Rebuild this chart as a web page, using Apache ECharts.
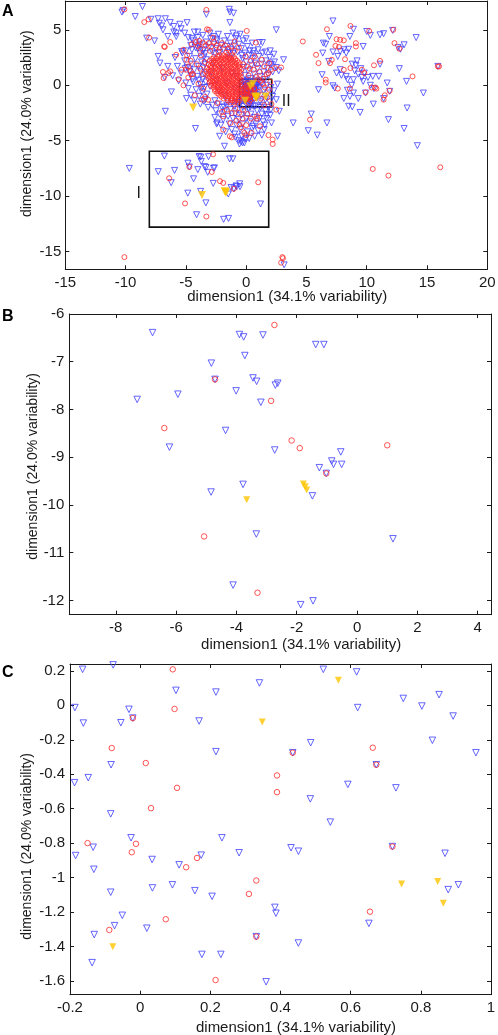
<!DOCTYPE html>
<html><head><meta charset="utf-8">
<script src="https://cdn.jsdelivr.net/npm/echarts@6/dist/echarts.min.js"></script>
<style>html,body{margin:0;padding:0;background:#fff}#c{width:498px;height:1035px}</style>
</head><body><div id="c"></div>
<script>
// ---------------- DATA (same point set shown in three zoom levels) ----------------
const blueTriangles = [
// zoom B region
[-6.78,-6.39],[-3.90,-6.43],[-3.76,-6.48],[-3.12,-6.44],[-1.37,-6.64],[-1.10,-6.64],[-3.72,-6.87],[-4.83,-7.03],[-3.45,-7.34],[-3.33,-7.41],[-2.71,-7.49],[-2.63,-7.45],[-4.01,-7.61],[-5.94,-7.68],[-7.29,-7.79],[-3.19,-7.85],[-4.36,-8.44],[-6.22,-8.79],[-2.73,-8.85],[-0.54,-8.89],[-0.84,-9.08],[-0.78,-9.15],[-0.51,-9.15],[-1.25,-9.22],[-1.02,-9.34],[-3.78,-9.57],[-4.84,-9.73],[-1.48,-9.81],[-3.34,-10.61],[1.19,-10.71],[-4.11,-11.68],[-1.46,-12.01],[-1.87,-12.09],[-4.71,-7.37],
// zoom C region
[-0.164,0.209],[-0.077,0.235],[0.102,0.087],[0.216,0.077],[0.340,0.130],[0.522,0.209],[0.617,0.194],[0.750,0.040],[0.852,0.062],[-0.186,-0.013],[-0.162,-0.103],[-0.032,-0.023],[-0.055,-0.101],[-0.021,-0.074],[0.168,-0.091],[-0.083,-0.345],[0.216,-0.269],[-0.187,-0.449],[-0.148,-0.420],[-0.084,-0.630],[-0.026,-0.769],[-0.134,-0.824],[0.233,-0.769],[0.282,-0.856],[-0.184,-0.872],[0.034,-0.895],[0.174,-0.870],[0.111,-0.926],[-0.132,-0.952],[-0.084,-1.085],[0.035,-1.060],[0.092,-1.042],[0.156,-1.076],[0.205,-1.109],[-0.051,-1.219],[-0.073,-1.279],[0.019,-1.294],[-0.131,-1.331],[-0.137,-1.494],[0.176,-1.446],[0.230,-1.446],[0.331,-1.343],[0.430,-0.827],[0.451,-0.847],[0.719,-0.820],[0.869,-0.859],[0.878,-1.070],[0.907,-1.042],[0.384,-1.173],[0.387,-1.207],[0.652,-1.266],[0.451,-1.380],[0.359,-1.605],[0.803,-0.004],[0.620,-0.013],[0.892,-0.062],[0.486,-0.217],[0.435,-0.275],[0.833,-0.203],[0.957,-0.275],[0.673,-0.345],[0.592,-0.459],[0.729,-0.479],[0.485,-0.543],[0.542,-0.678],
// main cluster, left side
[-5.1,2.2],[-4.9,1.6],[-4.7,2.6],[-4.6,0.9],[-4.5,1.9],[-4.4,0.3],[-4.3,1.4],[-4.2,2.4],[-4.15,-0.4],[-4.05,0.8],[-3.95,1.7],[-3.9,-1.0],[-3.85,2.9],[-3.8,0.1],[-3.75,1.2],[-3.7,2.1],[-3.65,-0.6],[-3.6,0.55],[-3.55,1.55],[-3.5,2.55],[-3.45,-0.2],[-3.42,0.95],[-3.4,1.9],[-3.38,-1.3],[-3.35,0.3],[-3.3,2.3],[-3.25,-0.8],[-5.4,1.1],[-5.6,0.4],[-5.0,0.2],[-4.8,-0.3],[-4.6,-0.9],[-4.3,-1.4],[-3.8,-1.7],[-3.5,-1.45],[-5.3,2.9],[-5.0,3.1],[-4.5,3.2],[-4.0,3.3],[-3.6,3.1],[-5.7,1.7],[-5.9,2.5],[-4.95,-1.2],[-3.95,3.6],[-3.7,-0.25],[-3.95,0.45],[-4.45,0.55],[-4.7,1.25],
// main cluster, upper band
[-4.8,4.3],[-4.6,3.6],[-4.4,4.0],[-4.2,3.4],[-4.0,4.3],[-3.8,3.7],[-3.6,4.5],[-3.5,3.2],[-3.3,3.9],[-3.1,3.4],[-2.95,4.2],[-2.8,3.0],[-2.7,3.7],[-2.5,3.3],[-2.4,4.0],[-2.2,2.95],[-2.1,3.6],[-1.9,3.2],[-1.8,4.0],[-1.6,3.5],[-1.45,2.95],[-1.3,3.8],[-1.2,3.2],[-1.0,3.55],[-0.85,4.2],[-0.7,3.0],[-0.6,3.7],[-0.4,3.3],[-0.25,4.0],[-0.1,2.9],[0.1,3.5],[0.3,3.1],[0.5,3.8],[-0.5,4.6],[-1.55,4.4],[-2.3,4.6],[-3.0,4.7],[-4.3,4.8],[-2.6,2.85],[-3.4,2.85],[-1.1,2.85],[0.6,2.85],[-0.35,2.7],
// main cluster, right of core
[-0.3,2.4],[-0.2,1.6],[-0.1,0.9],[0.0,2.1],[0.15,1.3],[0.25,2.7],[0.35,0.6],[0.45,1.8],[0.55,2.4],[0.65,1.0],[0.75,2.0],[0.85,0.4],[0.95,1.5],[1.05,2.6],[1.15,0.8],[1.25,1.9],[1.35,2.9],[1.45,1.2],[1.55,0.5],[1.65,2.2],[1.75,1.5],[1.85,0.9],[1.95,2.5],[2.1,1.9],[2.2,1.2],[2.35,2.1],[2.5,1.6],[0.1,0.45],[-0.15,0.35],[0.6,3.1],[1.0,3.2],[1.6,3.0],[2.0,3.1],[2.3,2.8],[0.4,0.3],[1.1,0.35],[2.7,1.3],
// main cluster, lower part
[-2.8,-1.8],[-2.5,-2.3],[-2.3,-1.7],[-2.6,-2.9],[-2.2,-2.6],[-2.0,-2.0],[-1.9,-3.1],[-1.8,-2.4],[-1.6,-1.8],[-1.5,-2.8],[-1.4,-3.5],[-1.3,-2.2],[-1.1,-3.0],[-1.0,-1.9],[-0.9,-2.6],[-0.8,-3.6],[-0.7,-2.2],[-0.6,-3.1],[-0.5,-4.0],[-0.4,-2.7],[-0.3,-3.5],[-0.2,-1.9],[-0.1,-2.4],[0.0,-3.0],[0.1,-4.2],[0.2,-2.1],[0.3,-3.3],[0.4,-2.6],[0.5,-3.9],[0.6,-1.9],[0.7,-2.9],[0.8,-3.5],[0.9,-2.3],[1.0,-4.1],[1.1,-3.0],[1.2,-2.0],[1.3,-2.6],[1.4,-3.3],[1.5,-4.0],[1.6,-2.3],[1.7,-3.0],[1.85,-2.0],[2.0,-2.7],[2.1,-3.4],[-1.2,-4.0],[-0.95,-4.4],[-0.35,-4.6],[0.25,-4.8],[-2.1,-3.6],[-1.7,-4.2],[-2.4,-3.4],[-0.55,-1.75],[0.35,-1.95],[0.75,-1.85],[1.35,-1.8],[-1.85,-1.95],[-2.6,-1.4],[-0.05,-4.85],[-0.15,-5.2],[-0.6,-5.0],[0.7,-4.6],[1.3,-4.5],[-1.55,-1.5],[-1.15,-1.65],[-0.75,-1.55],
// around box II
[1.1,-0.2],[1.2,-0.9],[1.3,0.2],[1.45,-0.5],[1.6,-1.3],[1.7,0.0],[1.8,-0.7],[1.95,-1.5],[2.05,-0.2],[2.2,-1.0],[1.15,-1.5],[-0.4,-0.9],[-0.35,0.0],[-0.3,-1.4],[2.3,-0.5],[2.5,-1.3],[2.6,0.1],
// inside the red core
[-2.9,1.2],[-2.5,0.4],[-2.0,1.5],[-1.6,0.2],[-1.2,1.1],[-0.9,-0.3],[-2.7,2.0],[-1.4,2.4],[-2.3,-0.5],[-0.8,0.8],[-1.8,-0.9],[-3.0,-0.1],
// upper-left arm and scattered
[-10.3,6.6],[-10.2,6.75],[-9.2,6.2],[-8.6,7.1],[-7.9,5.95],[-7.3,6.0],[-7.2,5.6],[-7.0,5.35],[-6.7,6.0],[-6.3,5.65],[-6.9,5.0],[-6.0,4.8],[-5.8,4.7],[-5.5,5.5],[-4.9,5.65],[-5.4,5.1],[-6.0,5.3],[-6.5,4.4],[-5.8,4.4],[-4.0,4.8],[-4.5,4.2],[-5.1,4.7],[-8.25,4.25],[-7.6,4.0],[-7.3,2.6],[-7.15,2.0],[-6.5,1.7],[-6.75,0.7],[-6.1,0.85],[-6.2,-0.6],[-5.35,3.05],[-5.05,1.5],[-3.3,6.4],[-2.7,4.4],[-2.45,4.15],[-1.4,6.85],[-1.35,6.6],[-1.05,6.5],[-1.35,5.65],[-1.1,4.7],[-0.8,4.45],[0.0,4.2],[1.1,3.85],[1.35,3.85],[2.5,5.0],[3.1,2.3],[2.0,1.85],
// right-hand cluster
[7.2,5.8],[8.9,5.05],[8.6,4.4],[6.9,4.4],[6.4,3.8],[6.6,3.7],[7.8,3.05],[8.1,3.2],[7.2,3.0],[8.5,3.25],[9.7,3.5],[10.3,4.5],[10.0,4.85],[11.1,4.55],[11.4,4.65],[12.15,4.95],[12.6,3.4],[12.8,3.25],[13.1,3.65],[14.1,4.3],[12.7,1.5],[15.9,1.7],[6.35,2.9],[6.85,2.15],[11.1,1.9],[9.1,1.8],[8.8,1.9],[9.5,1.5],[7.8,1.4],[7.5,1.1],[6.3,0.95],[7.2,-0.05],[7.35,-0.25],[8.3,0.8],[8.4,0.5],[8.9,0.5],[8.75,0.0],[9.7,0.35],[9.9,-0.7],[10.3,0.0],[11.0,0.8],[11.7,0.2],[11.9,-0.55],[11.4,-1.2],[10.55,-1.7],[8.6,-1.0],[8.9,-0.7],[8.5,-1.9],[8.8,-1.95],[9.45,-2.45],[9.3,-1.2],[8.1,-1.2],[8.4,-0.45],[13.3,0.35],[14.7,-0.7],[13.35,-2.05],[11.8,-3.1],[13.1,-3.9],[14.2,-5.45],[5.4,-2.6],[5.15,-4.1],[5.9,-4.5],[6.7,-3.4],[6.0,-0.4],[3.9,-3.4],[9.0,1.3],[9.3,1.0],[9.8,1.1],[10.1,0.7],[10.5,0.8],[9.6,0.7],[7.6,2.6],[8.3,2.9],[9.2,2.2],[7.9,0.9],[10.6,-0.3],
// lower scattered
[3.15,-16.2],[-9.69,-7.5],[-6.7,-2.35],[-4.2,-3.9],[-3.15,-2.0],[-2.45,-3.5],[-2.2,-4.6],[-1.8,-5.5],[-0.9,-4.7],[-0.4,-5.1],[-0.55,-5.3],[-0.3,-5.2],[0.6,-3.7],[1.55,-3.6],[2.6,-4.6],[2.75,-2.35],[2.05,-2.2],[1.7,-2.65]
];

const redCircles = [
// zoom B region
[-2.74,-6.23],[-4.71,-7.37],[-2.85,-7.82],[-6.39,-8.39],[-2.17,-8.65],[-1.90,-8.81],[1.00,-8.75],[-1.02,-9.34],[-5.07,-10.66],[-3.30,-11.84],
// zoom C region
[0.093,0.209],[-0.021,-0.074],[0.098,-0.021],[-0.081,-0.248],[0.016,-0.335],[0.105,-0.479],[0.031,-0.597],[-0.150,-0.800],[-0.012,-0.804],[-0.024,-0.853],[0.162,-0.886],[0.131,-0.940],[0.310,-1.095],[0.331,-1.017],[-0.088,-1.304],[0.073,-1.242],[0.215,-1.595],[0.331,-1.343],[0.719,-0.820],[0.655,-1.198],[0.435,-0.275],[0.663,-0.246],[0.673,-0.345],[0.390,-0.407],[0.390,-0.504],
// dense red core of the main cluster
[-2.2,2.72],[-1.86,2.7],[-1.52,2.74],[-1.18,2.69],
[-2.66,2.55],[-2.33,2.57],[-2.01,2.53],[-1.68,2.56],[-1.36,2.52],[-1.02,2.55],
[-2.82,2.38],[-2.49,2.4],[-2.16,2.36],[-1.84,2.39],[-1.53,2.37],[-1.24,2.4],[-0.91,2.36],
[-3.01,2.21],[-2.68,2.23],[-2.36,2.2],[-2.04,2.24],[-1.71,2.21],[-1.39,2.23],[-1.09,2.2],[-0.76,2.22],
[-2.86,2.06],[-2.54,2.04],[-2.21,2.07],[-1.89,2.03],[-1.58,2.06],[-1.26,2.04],[-0.94,2.07],[-0.61,2.05],
[-3.1,1.89],[-2.76,1.91],[-2.44,1.88],[-2.11,1.9],[-1.79,1.92],[-1.46,1.88],[-1.14,1.9],[-0.81,1.91],[-0.52,1.88],
[-2.96,1.73],[-2.61,1.71],[-2.29,1.74],[-1.96,1.7],[-1.64,1.73],[-1.31,1.71],[-0.99,1.74],[-0.66,1.72],
[-3.24,1.56],[-2.9,1.58],[-2.56,1.55],[-2.21,1.58],[-1.86,1.56],[-1.54,1.58],[-1.21,1.55],[-0.89,1.57],[-0.56,1.56],
[-3.09,1.41],[-2.76,1.39],[-2.41,1.42],[-2.06,1.39],[-1.74,1.41],[-1.41,1.4],[-1.06,1.42],[-0.72,1.39],[-0.41,1.41],
[-3.29,1.24],[-2.94,1.26],[-2.61,1.23],[-2.26,1.26],[-1.91,1.24],[-1.59,1.26],[-1.24,1.23],[-0.91,1.25],[-0.56,1.24],
[-3.14,1.09],[-2.81,1.07],[-2.46,1.1],[-2.11,1.07],[-1.79,1.09],[-1.46,1.07],[-1.11,1.1],[-0.76,1.08],[-0.44,1.09],
[-3.21,0.91],[-2.89,0.93],[-2.56,0.9],[-2.24,0.93],[-1.91,0.91],[-1.59,0.93],[-1.29,0.9],[-0.96,0.92],[-0.61,0.91],
[-3.04,0.77],[-2.71,0.75],[-2.39,0.78],[-2.06,0.75],[-1.74,0.77],[-1.41,0.75],[-1.09,0.78],[-0.76,0.76],[-0.46,0.77],
[-3.11,0.6],[-2.79,0.62],[-2.49,0.59],[-2.19,0.61],[-1.86,0.6],[-1.54,0.62],[-1.21,0.59],[-0.89,0.61],[-0.56,0.6],
[-2.94,0.45],[-2.64,0.43],[-2.31,0.46],[-1.99,0.43],[-1.69,0.45],[-1.36,0.43],[-1.04,0.46],[-0.71,0.44],[-0.41,0.45],
[-3.01,0.28],[-2.74,0.3],[-2.44,0.27],[-2.11,0.29],[-1.81,0.27],[-1.49,0.3],[-1.16,0.28],[-0.84,0.29],[-0.51,0.27],
[-2.86,0.13],[-2.54,0.11],[-2.24,0.14],[-1.94,0.11],[-1.61,0.13],[-1.29,0.11],[-0.99,0.14],[-0.66,0.12],
[-2.91,-0.04],[-2.64,-0.02],[-2.34,-0.05],[-2.04,-0.03],[-1.74,-0.05],[-1.44,-0.02],[-1.11,-0.04],[-0.79,-0.03],[-0.49,-0.05],
[-2.69,-0.2],[-2.41,-0.18],[-2.14,-0.21],[-1.84,-0.19],[-1.54,-0.21],[-1.24,-0.18],[-0.94,-0.2],[-0.61,-0.19],
[-2.56,-0.36],[-2.24,-0.34],[-1.94,-0.37],[-1.64,-0.35],[-1.34,-0.37],[-1.04,-0.34],[-0.74,-0.36],[-0.44,-0.35],
[-2.59,-0.52],[-2.34,-0.54],[-2.04,-0.51],[-1.76,-0.53],[-1.44,-0.51],[-1.14,-0.54],[-0.86,-0.52],[-0.54,-0.53],
[-2.41,-0.7],[-2.09,-0.68],[-1.81,-0.71],[-1.49,-0.69],[-1.21,-0.71],[-0.89,-0.68],[-0.61,-0.7],[-0.31,-0.69],
[-2.24,-0.86],[-1.96,-0.84],[-1.64,-0.87],[-1.36,-0.85],[-1.04,-0.87],[-0.76,-0.84],[-0.44,-0.86],
[-2.06,-1.02],[-1.74,-1.0],[-1.46,-1.03],[-1.14,-1.01],[-0.86,-1.03],[-0.54,-1.0],
[-1.86,-1.2],[-1.54,-1.18],[-1.26,-1.21],[-0.94,-1.19],[-0.64,-1.21],
[-1.51,-1.38],[-1.19,-1.36],[-0.91,-1.39],[-0.59,-1.37],
[-1.31,-1.55],[-0.99,-1.53],[-0.71,-1.56],
// main cluster, other parts
[-5.0,1.4],[-4.6,2.2],[-4.4,1.0],[-4.1,1.9],[-3.95,0.15],[-3.75,2.7],[-3.6,1.0],[-3.55,-0.3],[-4.25,-0.9],[-3.4,-1.05],[-4.8,0.7],[-3.45,2.1],[-5.2,0.0],[-3.8,1.5],[-4.9,2.7],[-3.65,-1.3],
[-4.5,3.7],[-4.2,3.9],[-3.9,4.0],[-3.6,3.85],[-3.35,3.6],[-3.1,3.8],[-2.9,3.5],[-2.65,3.9],[-2.45,3.6],[-2.2,3.35],[-2.0,3.8],[-1.75,3.6],[-1.5,3.3],[-1.25,3.5],[-0.95,3.1],[-0.6,3.4],[-3.8,3.3],[-3.0,3.1],[-2.3,3.05],[-1.65,2.95],[-4.0,3.55],[-2.75,4.3],
[-0.25,1.9],[0.05,1.7],[0.2,0.9],[0.4,2.2],[0.6,1.4],[0.8,0.75],[0.9,1.9],[1.1,1.2],[1.3,2.3],[1.5,1.7],[1.7,1.0],[1.9,2.0],[2.05,1.4],[0.3,1.5],[0.7,2.6],[-0.05,2.6],[1.0,0.55],[1.4,0.6],
[-2.4,-1.6],[-2.0,-2.4],[-1.6,-2.2],[-1.2,-2.5],[-0.9,-2.1],[-0.6,-2.5],[-0.3,-3.0],[0.1,-2.6],[-0.8,-3.2],[-0.4,-3.8],[0.0,-3.6],[0.4,-3.0],[-1.3,-3.4],[-0.15,-4.3],[-1.9,-2.8],[0.9,-2.8],[-0.55,-3.55],[-0.25,-2.2],
[1.05,-0.6],[1.25,-1.2],[1.4,0.1],[1.55,-0.2],[1.75,-1.1],[1.9,-0.4],[2.1,-1.7],[1.2,0.4],[-0.3,-0.5],[2.0,0.3],[1.5,-1.8],
// upper-left arm and scattered
[-10.1,6.85],[-8.45,5.7],[-8.1,5.95],[-8.05,4.3],[-6.8,3.5],[-6.75,3.45],[-6.3,3.9],[-6.9,1.2],[-6.3,1.25],[-6.45,1.1],[-6.85,0.65],[-5.6,0.55],[-5.8,2.75],[-5.2,3.2],[-4.95,2.3],[-4.8,1.7],[-5.35,1.4],[-4.6,1.25],[-4.5,1.0],[-3.3,6.8],[-3.25,5.05],[-3.1,5.0],[-0.95,3.95],[0.05,4.9],[0.8,3.85],[2.9,1.6],[2.4,1.55],[1.85,1.1],
// right-hand cluster
[4.7,3.95],[6.7,5.05],[8.65,5.35],[7.5,4.15],[7.8,4.1],[8.1,4.05],[7.4,3.55],[7.7,3.45],[9.1,3.8],[9.1,3.5],[10.2,4.9],[12.2,5.0],[12.3,3.8],[12.7,3.3],[15.9,1.7],[16.0,1.7],[5.8,2.75],[6.0,2.0],[6.95,2.0],[7.1,2.3],[8.2,2.35],[11.1,2.2],[10.6,1.8],[8.65,1.55],[9.6,1.4],[9.8,1.1],[8.1,1.4],[6.6,0.5],[6.6,0.25],[7.6,-0.3],[8.6,-0.3],[9.9,-0.65],[10.4,-0.2],[10.7,-0.2],[10.8,-0.3],[11.9,-0.5],[11.4,-1.3],[11.5,-0.9],[13.8,0.8],[10.5,-7.55],[11.8,-8.15],[16.1,-7.4],[5.3,-3.1],
// lower scattered
[-10.1,-15.5],[3.05,-15.6],[3.0,-15.5],[2.9,-16.0],[-3.15,-1.3],[-1.9,-4.0],[-1.2,-4.7],[-1.35,-4.6],[0.0,-4.5],[0.45,-4.3],[1.15,-3.7],[1.85,-4.5],[2.2,-4.9],[2.2,-5.3],[2.5,-2.2],[0.9,-3.0]
];

const yellowTriangles = [
[-3.66,-9.89],[-1.78,-9.56],[-1.72,-9.62],[-1.67,-9.69],
[0.565,0.145],[0.348,-0.097],[0.745,-1.037],[0.848,-1.023],[0.864,-1.149],[-0.078,-1.401],
[-4.4,-2.0],[1.62,-1.02]
];

// zoom boxes drawn on panel A: [[x1,y1],[x2,y2]]
const boxI  = [[-8.03,-12.8],[1.87,-5.95]];
const boxII = [[-0.54,-1.95],[2.11,0.54]];
const boxLabels = ['I','II'];

// axis ranges and tick labels
const rangeA = {x:[-15,20], y:[-16.6,7.6]};
const rangeB = {x:[-9.54,4.44], y:[-12.3,-6]};
const rangeC = {x:[-0.2,1], y:[-1.68,0.24]};
const ticksAx = [-15,-10,-5,0,5,10,15,20];
const ticksAy = [-15,-10,-5,0,5];
const ticksBx = [-8,-6,-4,-2,0,2,4];
const ticksBy = [-12,-11,-10,-9,-8,-7,-6];
const ticksCx = [-0.2,0,0.2,0.4,0.6,0.8,1];
const ticksCy = [-1.6,-1.4,-1.2,-1,-0.8,-0.6,-0.4,-0.2,0,0.2];
const panelLetters = ['A','B','C'];
const xTitle = 'dimension1 (34.1% variability)';
const yTitle = 'dimension1 (24.0% variability)';

// ---------------- LAYOUT ----------------
const FONT = '"Liberation Sans", Arial, sans-serif';
const BLUE = '#3f3fff', RED = '#ff2a2a', YELLOW = '#ffc400', INK = '#1a1a1a';
const panels = [
  {grid:{left:65.3, top:1, width:422, height:268.3}, r:rangeA, xt:ticksAx, yt:ticksAy,
   xGap:20, xPad:[0,0,0,22], yGap:31, yPad:[0,0,0,23], yMargin:4, xMargin:6, tri:6, circ:5, yel:8, letter:[2,4]},
  {grid:{left:69.3, top:314, width:421.7, height:300.7}, r:rangeB, xt:ticksBx, yt:ticksBy,
   xGap:23, xPad:[0,0,0,42], yGap:29, yPad:[0,4,0,0], yMargin:5, xMargin:6, tri:6.5, circ:5.5, yel:7, letter:[2,309]},
  {grid:{left:70, top:664, width:421, height:330.7}, r:rangeC, xt:ticksCx, yt:ticksCy,
   xGap:26, xPad:[0,0,0,31], yGap:36, yPad:[0,34,0,0], yMargin:5, xMargin:6, tri:6.5, circ:5.5, yel:7, letter:[2,665]}
];

const grid = [], xAxis = [], yAxis = [], series = [], graphic = [];
const lblStyle = {fontFamily: FONT, fontSize: 15, color: INK};
panels.forEach((p, i) => {
  grid.push(Object.assign({outerBoundsMode:'none', containLabel:false}, p.grid));
  const common = {type:'value', gridIndex:i, splitLine:{show:false},
    axisLine:{show:true, onZero:false, lineStyle:{color:INK, width:1}},
    axisTick:{show:true, inside:true, length:4, lineStyle:{color:INK}}};
  // bottom x
  xAxis.push(Object.assign({}, common, {position:'bottom', min:p.r.x[0], max:p.r.x[1],
    axisTick:Object.assign({}, common.axisTick, {customValues:p.xt}),
    axisLabel:Object.assign({customValues:p.xt, margin:p.xMargin}, lblStyle),
    name:xTitle, nameLocation:'middle', nameGap:p.xGap, nameMoveOverlap:false,
    nameTextStyle:{fontFamily:FONT, fontSize:15, color:INK, padding:p.xPad}}));
  // top x (frame)
  xAxis.push(Object.assign({}, common, {position:'top', min:p.r.x[0], max:p.r.x[1],
    axisTick:Object.assign({}, common.axisTick, {customValues:p.xt}), axisLabel:{show:false}}));
  // left y
  yAxis.push(Object.assign({}, common, {position:'left', min:p.r.y[0], max:p.r.y[1],
    axisTick:Object.assign({}, common.axisTick, {customValues:p.yt}),
    axisLabel:Object.assign({customValues:p.yt, margin:p.yMargin}, lblStyle),
    name:yTitle, nameLocation:'middle', nameGap:p.yGap, nameMoveOverlap:false,
    nameTextStyle:{fontFamily:FONT, fontSize:14, color:INK, padding:p.yPad}}));
  // right y (frame)
  yAxis.push(Object.assign({}, common, {position:'right', min:p.r.y[0], max:p.r.y[1],
    axisTick:Object.assign({}, common.axisTick, {customValues:p.yt}), axisLabel:{show:false}}));

  const xi = 2*i, yi = 2*i;
  const blue = {type:'scatter', xAxisIndex:xi, yAxisIndex:yi, data:blueTriangles, symbol:'triangle', symbolRotate:180,
    symbolSize:p.tri, itemStyle:{color:'rgba(0,0,0,0)', borderColor:BLUE, borderWidth:1}, silent:true, z:2};
  if (i === 0) {
    blue.markArea = {silent:true, itemStyle:{color:'rgba(0,0,0,0)', borderColor:'#111', borderWidth:1.6},
      data:[[{coord:boxI[0]},{coord:boxI[1]}],[{coord:boxII[0]},{coord:boxII[1]}]]};
  }
  series.push(blue);
  series.push({type:'scatter', xAxisIndex:xi, yAxisIndex:yi, data:redCircles, symbol:'circle',
    symbolSize:p.circ, itemStyle:{color:'rgba(0,0,0,0)', borderColor:RED, borderWidth:1}, silent:true, z:3});
  series.push({type:'scatter', xAxisIndex:xi, yAxisIndex:yi, data:yellowTriangles, symbol:'triangle', symbolRotate:180,
    symbolSize:p.yel, itemStyle:{color:YELLOW, borderWidth:0}, silent:true, z:4});
  graphic.push({type:'text', left:p.letter[0], top:p.letter[1],
    style:{text:panelLetters[i], fontFamily:FONT, fontSize:16, fontWeight:'bold', fill:'#000'}});
});
graphic.push({type:'text', x:138.7, y:193.3, style:{text:boxLabels[0], fontFamily:FONT, fontSize:16, fill:INK, align:'center', verticalAlign:'middle'}});
graphic.push({type:'text', x:286.3, y:101.7, style:{text:boxLabels[1], fontFamily:FONT, fontSize:16, fill:INK, align:'center', verticalAlign:'middle'}});

const chart = echarts.init(document.getElementById('c'), null, {renderer:'canvas'});
chart.setOption({animation:false, backgroundColor:'#fff', grid, xAxis, yAxis, series, graphic});
</script></body></html>
